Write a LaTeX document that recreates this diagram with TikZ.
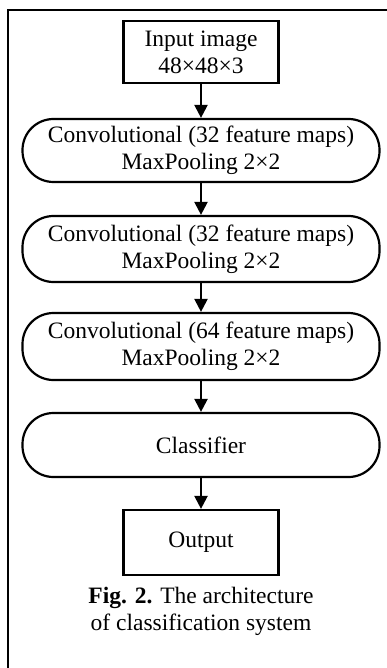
\documentclass[tikz,border=0pt]{standalone}
\usepackage{fontspec}
\setmainfont{Liberation Serif}
\usetikzlibrary{arrows.meta}
\begin{document}
\begin{tikzpicture}[x=1pt,y=-1pt,
  every node/.style={font=\fontsize{23.5}{27}\selectfont},
  sqbox/.style={draw,line width=2.2pt,inner sep=0pt,align=center,minimum width=155pt},
  rbox/.style={draw,line width=2.2pt,inner sep=0pt,align=center,minimum width=357pt,rounded corners=31pt},
  arr/.style={line width=2.2pt,-{Triangle[width=13pt,length=13pt]}}]
\useasboundingbox (0,0) rectangle (387,668);
\draw[line width=2pt] (8,668) -- (8,10) -- (387,10);
\node[sqbox,minimum height=62pt] (in) at (201,52) {Input image\\48×48×3};
\node[rbox,minimum height=63pt] (c1) at (201,150.5) {Convolutional (32 feature maps)\\MaxPooling 2×2};
\node[rbox,minimum height=66pt] (c2) at (201,249) {Convolutional (32 feature maps)\\MaxPooling 2×2};
\node[rbox,minimum height=67pt] (c3) at (201,346.5) {Convolutional (64 feature maps)\\MaxPooling 2×2};
\node[rbox,minimum height=64pt] (cl) at (201,445) {Classifier};
\node[sqbox,minimum height=65pt] (out) at (201,542.5) {Output};
\node[align=center] (cap) at (201,611) {\textbf{Fig. 2.} The architecture\\of classification system};
\draw[arr] (in) -- (c1);
\draw[arr] (c1) -- (c2);
\draw[arr] (c2) -- (c3);
\draw[arr] (c3) -- (cl);
\draw[arr] (cl) -- (out);
\end{tikzpicture}
\end{document}
